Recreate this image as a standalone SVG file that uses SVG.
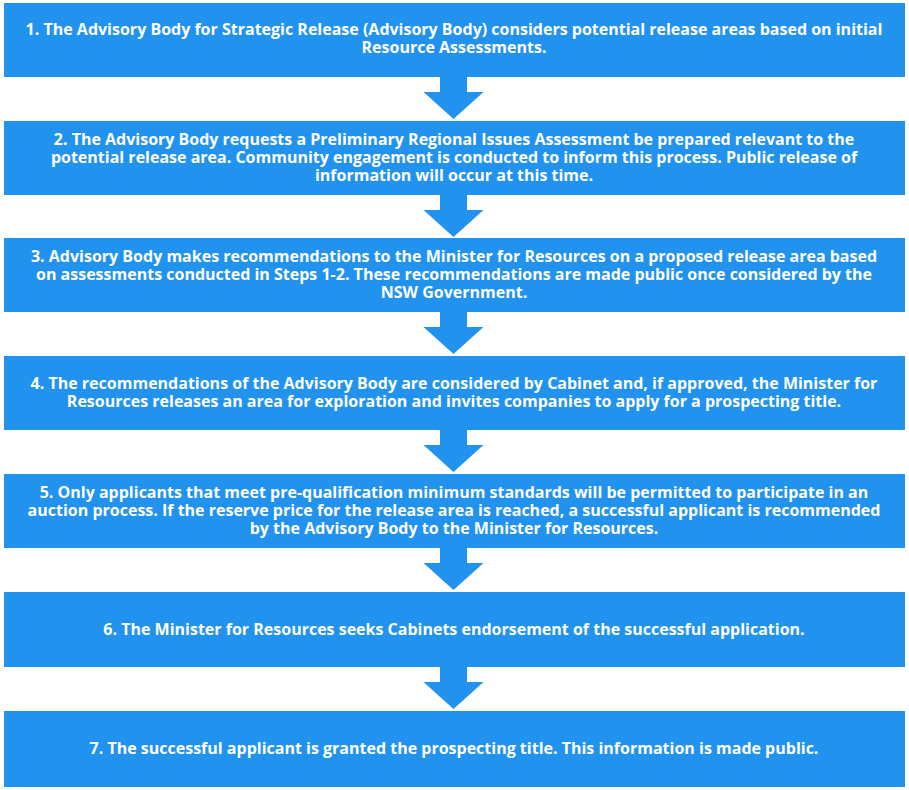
<svg xmlns="http://www.w3.org/2000/svg" width="909" height="790" viewBox="0 0 909 790">
<style>
.b{fill:#2193ee}
.t{fill:#fff;font-family:"Open Sans","Liberation Sans",sans-serif;font-weight:bold;font-size:16px;text-anchor:middle}
</style>
<defs><path id="ar" class="b" d="M-13.5,0H13.5V16H30L0,43L-30,16H-13.5Z"/></defs>
<rect width="909" height="790" fill="#fff"/>
<g id="connectors">
<use href="#ar" x="453.5" y="76"/>
<use href="#ar" x="453.5" y="194"/>
<use href="#ar" x="453.5" y="311"/>
<use href="#ar" x="453.5" y="429"/>
<use href="#ar" x="453.5" y="547"/>
<use href="#ar" x="453.5" y="666"/>
</g>
<g id="n1"><rect class="b" x="4" y="3" width="901" height="74"/>
<text class="t" x="454" y="35">1. The Advisory Body for Strategic Release (Advisory Body) considers potential release areas based on initial</text>
<text class="t" x="454" y="53">Resource Assessments.</text></g>
<g id="n2"><rect class="b" x="4" y="121" width="901" height="74"/>
<text class="t" x="454" y="145">2. The Advisory Body requests a Preliminary Regional Issues Assessment be prepared relevant to the</text>
<text class="t" x="454" y="163">potential release area. Community engagement is conducted to inform this process. Public release of</text>
<text class="t" x="454" y="181">information will occur at this time.</text></g>
<g id="n3"><rect class="b" x="4" y="238" width="901" height="74"/>
<text class="t" x="454" y="262">3. Advisory Body makes recommendations to the Minister for Resources on a proposed release area based</text>
<text class="t" x="454" y="280">on assessments conducted in Steps 1-2. These recommendations are made public once considered by the</text>
<text class="t" x="454" y="298">NSW Government.</text></g>
<g id="n4"><rect class="b" x="4" y="356" width="901" height="74"/>
<text class="t" x="454" y="389">4. The recommendations of the Advisory Body are considered by Cabinet and, if approved, the Minister for</text>
<text class="t" x="454" y="407">Resources releases an area for exploration and invites companies to apply for a prospecting title.</text></g>
<g id="n5"><rect class="b" x="4" y="474" width="901" height="74"/>
<text class="t" x="454" y="498">5. Only applicants that meet pre-qualification minimum standards will be permitted to participate in an</text>
<text class="t" x="454" y="516">auction process. If the reserve price for the release area is reached, a successful applicant is recommended</text>
<text class="t" x="454" y="534">by the Advisory Body to the Minister for Resources.</text></g>
<g id="n6"><rect class="b" x="4" y="592" width="901" height="75"/>
<text class="t" x="454" y="635">6. The Minister for Resources seeks Cabinets endorsement of the successful application.</text></g>
<g id="n7"><rect class="b" x="4" y="711" width="901" height="76"/>
<text class="t" x="454" y="754">7. The successful applicant is granted the prospecting title. This information is made public.</text></g>
</svg>
